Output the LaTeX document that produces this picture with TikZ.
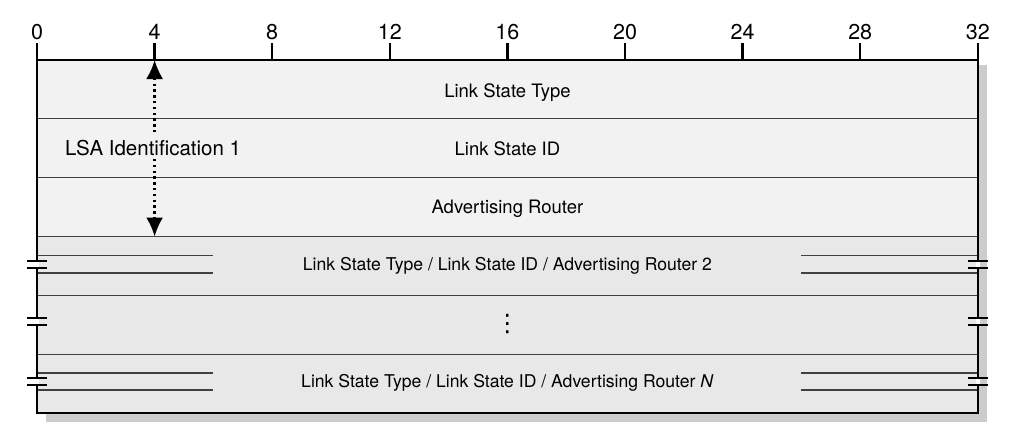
\documentclass[tikz,border=0pt]{standalone}
\usepackage{fontspec}
\setmainfont{TeX Gyre Heros}
\newfontfamily\dotsfont{DejaVu Sans}
\usetikzlibrary{arrows.meta}

\tikzset{
  field/.style={font=\fontsize{18.5}{22}\selectfont, anchor=base},
  subfield/.style={font=\fontsize{17.6}{21}\selectfont, anchor=base},
  bitlabel/.style={font=\fontsize{21.5}{25}\selectfont},
  rowline/.style={line width=1.3pt, black!75},
  brk/.style={line width=2.2pt},
}

\begin{document}
\begin{tikzpicture}[x=29.4pt,y=-58.83pt]
\useasboundingbox (-1.259,-1.02) rectangle (33.163,6.272);

% Schatten und Flaechen
\fill[black!20] (0.3,0.085) rectangle (32.3,6.153);
\fill[black!5] (0,0) rectangle (32,3);
\fill[black!9] (0,3) rectangle (32,6);

\foreach \y in {1,...,5} {
  \draw[rowline] (0,\y) -- (32,\y);
}

\foreach \y in {3.32,3.62,5.32,5.61} {
  \draw[rowline] (0,\y) -- (6,\y);
  \draw[rowline] (26,\y) -- (32,\y);
}

\draw[line width=2.5pt] (0,0) rectangle (32,6);

% Bitskala
\foreach \b in {0,4,...,32} {
  \node[bitlabel] (b\b) at (\b,-0.47) {\b};
  \draw[line width=2.3pt] (\b,0) -- (\b,-0.29);
}

% Unterbrechungen
\foreach \x in {0,32} {
  \foreach \y in {3.47,4.45,5.46} {
    \fill[white] (\x-0.07,\y-0.05) rectangle (\x+0.07,\y+0.05);
    \draw[brk] (\x-0.34,\y-0.06) -- (\x+0.34,\y-0.06);
    \draw[brk] (\x-0.34,\y+0.06) -- (\x+0.34,\y+0.06);
  }
}

\node[field] (lstype) at (16,0.63) {Link State Type};
\node[field] (lsid) at (16,1.63) {Link State ID};
\node[field] (advrt) at (16,2.61) {Advertising Router};
\node[subfield] (lsa2) at (16,3.57) {Link State Type / Link State ID / Advertising Router 2};
\node[font=\dotsfont\fontsize{24}{28}\selectfont] (dots) at (16,4.48) {⋮};
\node[subfield] (lsaN) at (16,5.575) {Link State Type / Link State ID / Advertising Router \textit{N}};

% LSA 1
\coordinate (idtop) at (4,0);
\coordinate (idbot) at (4,3);
\draw[line width=2.3pt, dash pattern=on 2.3pt off 3.5pt,
  {Latex[length=19pt,width=17pt]}-{Latex[length=19pt,width=17pt]}] (idtop) -- (idbot);
\node[field, font=\fontsize{20.5}{24}\selectfont, fill=black!5, inner sep=4pt] (lsaid) at (3.95,1.615) {LSA Identification 1};

\end{tikzpicture}
\end{document}
